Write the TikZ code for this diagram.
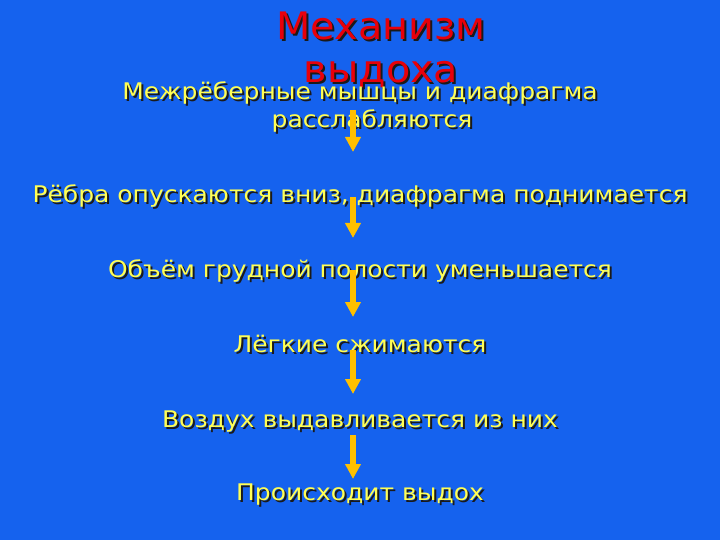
\documentclass[tikz,border=0pt]{standalone}
\usepackage{fontspec}
\setmainfont{DejaVu Sans}
\newfontfamily\bodyfont[FakeStretch=1.09]{DejaVu Sans}
\newfontfamily\titlefont[FakeStretch=1.05]{DejaVu Sans}
\usetikzlibrary{arrows.meta}
\definecolor{bgblue}{HTML}{1562EE}
\definecolor{txtyellow}{HTML}{FFFF55}
\definecolor{ttlred}{HTML}{E8000A}
\definecolor{arrowc}{HTML}{FFC000}
\definecolor{shadowc}{HTML}{1A1A1A}
\tikzset{
  bodytext/.style={anchor=base, inner sep=0pt, text=txtyellow, font=\bodyfont\fontsize{23}{28}\selectfont, align=center},
  bodyshadow/.style={bodytext, text=shadowc},
  titletext/.style={anchor=base, inner sep=0pt, text=ttlred, font=\titlefont\fontsize{38}{43}\selectfont},
  titleshadow/.style={titletext, text=shadowc},
  flowarrow/.style={draw=arrowc, line width=6bp, -{Triangle[width=15bp,length=15bp]}}
}
\begin{document}
\begin{tikzpicture}[x=1bp,y=-1bp]
\useasboundingbox (0,0) rectangle (720,540);
\fill[bgblue] (0,0) rectangle (720,540);
% title
\node[titleshadow] (h1s) at (383,42) {Механизм};
\node[titletext] (h1) at (381,40) {Механизм};
\node[titleshadow] (h2s) at (383,85) {выдоха};
\node[titletext] (h2) at (381,83) {выдоха};
% body texts
\node[bodyshadow] (t1as) at (362,102) {Межрёберные мышцы и диафрагма};
\node[bodytext] (t1a) at (360,100) {Межрёберные мышцы и диафрагма};
\node[bodyshadow] (t1bs) at (374,130) {расслабляются};
\node[bodytext] (t1b) at (372,128) {расслабляются};
\node[bodyshadow] (t2s) at (362,205) {Рёбра опускаются вниз, диафрагма поднимается};
\node[bodytext] (t2) at (360,203) {Рёбра опускаются вниз, диафрагма поднимается};
\node[bodyshadow] (t3s) at (362,280) {Объём грудной полости уменьшается};
\node[bodytext] (t3) at (360,278) {Объём грудной полости уменьшается};
\node[bodyshadow] (t4s) at (362,354) {Лёгкие сжимаются};
\node[bodytext] (t4) at (360,352) {Лёгкие сжимаются};
\node[bodyshadow] (t5s) at (362,429) {Воздух выдавливается из них};
\node[bodytext] (t5) at (360,427) {Воздух выдавливается из них};
\node[bodyshadow] (t6s) at (362,502) {Происходит выдох};
\node[bodytext] (t6) at (360,500) {Происходит выдох};
% arrow end points
\coordinate (a1s) at (353,110); \coordinate (a1e) at (353,152);
\coordinate (a2s) at (353,197); \coordinate (a2e) at (353,238);
\coordinate (a3s) at (353,270); \coordinate (a3e) at (353,317);
\coordinate (a4s) at (353,350); \coordinate (a4e) at (353,394);
\coordinate (a5s) at (353,435); \coordinate (a5e) at (353,479);
\draw[flowarrow] (a1s) -- (a1e);
\draw[flowarrow] (a2s) -- (a2e);
\draw[flowarrow] (a3s) -- (a3e);
\draw[flowarrow] (a4s) -- (a4e);
\draw[flowarrow] (a5s) -- (a5e);
\end{tikzpicture}
\end{document}
